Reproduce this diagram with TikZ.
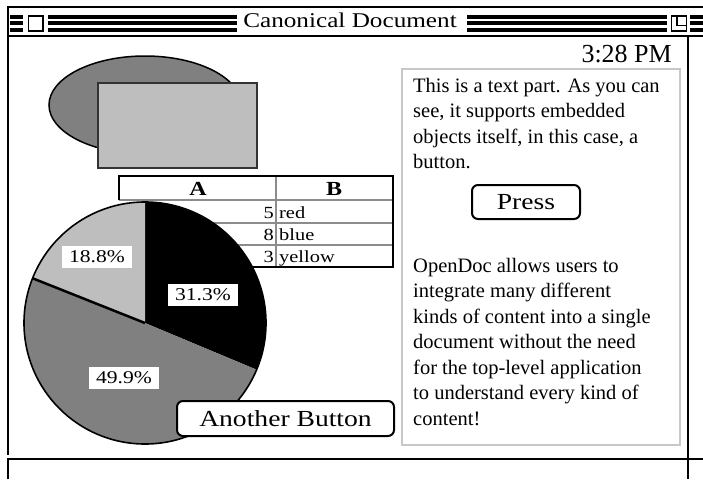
\documentclass[tikz,border=0pt]{standalone}
\usepackage{fontspec}
\setmainfont{Liberation Serif}
\newfontfamily\widefont{Liberation Serif}[FakeStretch=1.2]
\definecolor{darkgr}{HTML}{808080}
\definecolor{lightgr}{HTML}{BEBEBE}
\definecolor{framegr}{HTML}{C8C8C8}
\definecolor{rowgr}{HTML}{8C8C8C}
\tikzset{
  winline/.style={line width=2pt, black},
  stripe/.style={fill=black},
  bodytext/.style={anchor=base west, inner sep=0pt, font=\fontsize{20.5}{24}\selectfont},
  celltext/.style={inner sep=0pt, font=\widefont\fontsize{17}{20}\selectfont},
  headtext/.style={inner sep=0pt, anchor=base, font=\widefont\bfseries\fontsize{20}{22}\selectfont},
  pctlabel/.style={fill=white, inner sep=0pt, minimum width=70pt, minimum height=22pt, font=\widefont\fontsize{18}{20}\selectfont},
  btn/.style={draw=black, line width=2pt, fill=white, rounded corners=6pt, inner sep=0pt},
  rowline/.style={rowgr, line width=1.5pt}
}
\begin{document}
\begin{tikzpicture}[x=1pt, y=-1pt]
\useasboundingbox (0,0) rectangle (703,479);
\fill[white] (0,0) rectangle (703,479);

% ---------- title bar ----------
\foreach \yy in {15,21.3,27.6}{
  \fill[stripe] (10,\yy) rectangle (23,\yy+4);
  \fill[stripe] (48,\yy) rectangle (237,\yy+4);
  \fill[stripe] (467,\yy) rectangle (667,\yy+4);
  \fill[stripe] (690,\yy) rectangle (703,\yy+4);
}
\draw[line width=1.8pt, fill=white] (28.5,16) rectangle (43,31);
\draw[line width=1.8pt, fill=white] (671.5,16) rectangle (686.5,31);
\draw[line width=1.8pt] (677,16) |- (686.5,25.5);
\node[inner sep=0pt, anchor=base, font=\widefont\fontsize{21}{24}\selectfont] (title) at (350,27) {Canonical Document};

% ---------- window frame ----------
\draw[winline] (8,7) -- (703,7);
\draw[winline] (8,36) -- (703,36);
\draw[winline] (8,6) -- (8,455);
\draw[winline] (688,36) -- (688,479);
\draw[winline] (8,479) -- (8,459) -- (703,459);

% ---------- clock ----------
\node[inner sep=0pt, anchor=base east, font=\fontsize{26}{28}\selectfont] (clock) at (672,62) {3:28 PM};

% ---------- ellipse and rectangle ----------
\draw[line width=1.5pt, fill=darkgr] (145,105) ellipse [x radius=96, y radius=49];
\draw[line width=2pt, draw=black!80, fill=lightgr] (98,83) rectangle (257,168);

% ---------- table ----------
\draw[rowline] (119,200) -- (393,200);
\draw[rowline] (119,223) -- (393,223);
\draw[rowline] (119,245) -- (393,245);
\draw[rowline] (276,176) -- (276,267);
\draw[line width=1.8pt] (119,200) -- (119,176) -- (393,176) -- (393,267) -- (119,267);
\node[headtext] (ha) at (198,195.5) {A};
\node[headtext] (hb) at (334,195.5) {B};
\node[celltext, anchor=base east] (n1) at (274,218) {5};
\node[celltext, anchor=base east] (n2) at (274,240.5) {8};
\node[celltext, anchor=base east] (n3) at (274,262.5) {3};
\node[celltext, anchor=base west] (c1) at (279,218) {red};
\node[celltext, anchor=base west] (c2) at (279,240.5) {blue};
\node[celltext, anchor=base west] (c3) at (279,262.5) {yellow};

% ---------- pie chart ----------
\begin{scope}[shift={(145,323)}, yscale=-1]
  \fill[black] (0,0) -- (90:121) arc[start angle=90, end angle=-22.7, radius=121] -- cycle;
  \fill[darkgr] (0,0) -- (-22.7:121) arc[start angle=-22.7, end angle=-201.7, radius=121] -- cycle;
  \fill[lightgr] (0,0) -- (158.3:121) arc[start angle=158.3, end angle=90, radius=121] -- cycle;
  \draw[line width=1.6pt] (0,0) circle[radius=121];
  \draw[line width=2.5pt] (0,0) -- (158.3:121);
\end{scope}
\node[pctlabel] (p1) at (97,257) {18.8\%};
\node[pctlabel] (p2) at (203,294.5) {31.3\%};
\node[pctlabel] (p3) at (124,377.5) {49.9\%};

% ---------- another button ----------
\node[btn, minimum width=217pt, minimum height=35pt, font=\widefont\fontsize{23}{26}\selectfont] (another) at (285.5,418.5) {Another Button};

% ---------- text part ----------
\draw[framegr, line width=2pt] (402,69) rectangle (680,445);
\node[bodytext] (l1) at (413,92) {This is a text part. As you can};
\node[bodytext] (l2) at (413,117.5) {see, it supports embedded};
\node[bodytext] (l3) at (413,143) {objects itself, in this case, a};
\node[bodytext] (l4) at (413,168.5) {button.};
\node[btn, minimum width=108pt, minimum height=34pt, font=\widefont\fontsize{23}{26}\selectfont] (press) at (526,202) {Press};
\node[bodytext] (m1) at (413,272) {OpenDoc allows users to};
\node[bodytext] (m2) at (413,297.5) {integrate many different};
\node[bodytext] (m3) at (413,323) {kinds of content into a single};
\node[bodytext] (m4) at (413,348.5) {document without the need};
\node[bodytext] (m5) at (413,374) {for the top-level application};
\node[bodytext] (m6) at (413,399.5) {to understand every kind of};
\node[bodytext] (m7) at (413,425) {content!};
\end{tikzpicture}
\end{document}
